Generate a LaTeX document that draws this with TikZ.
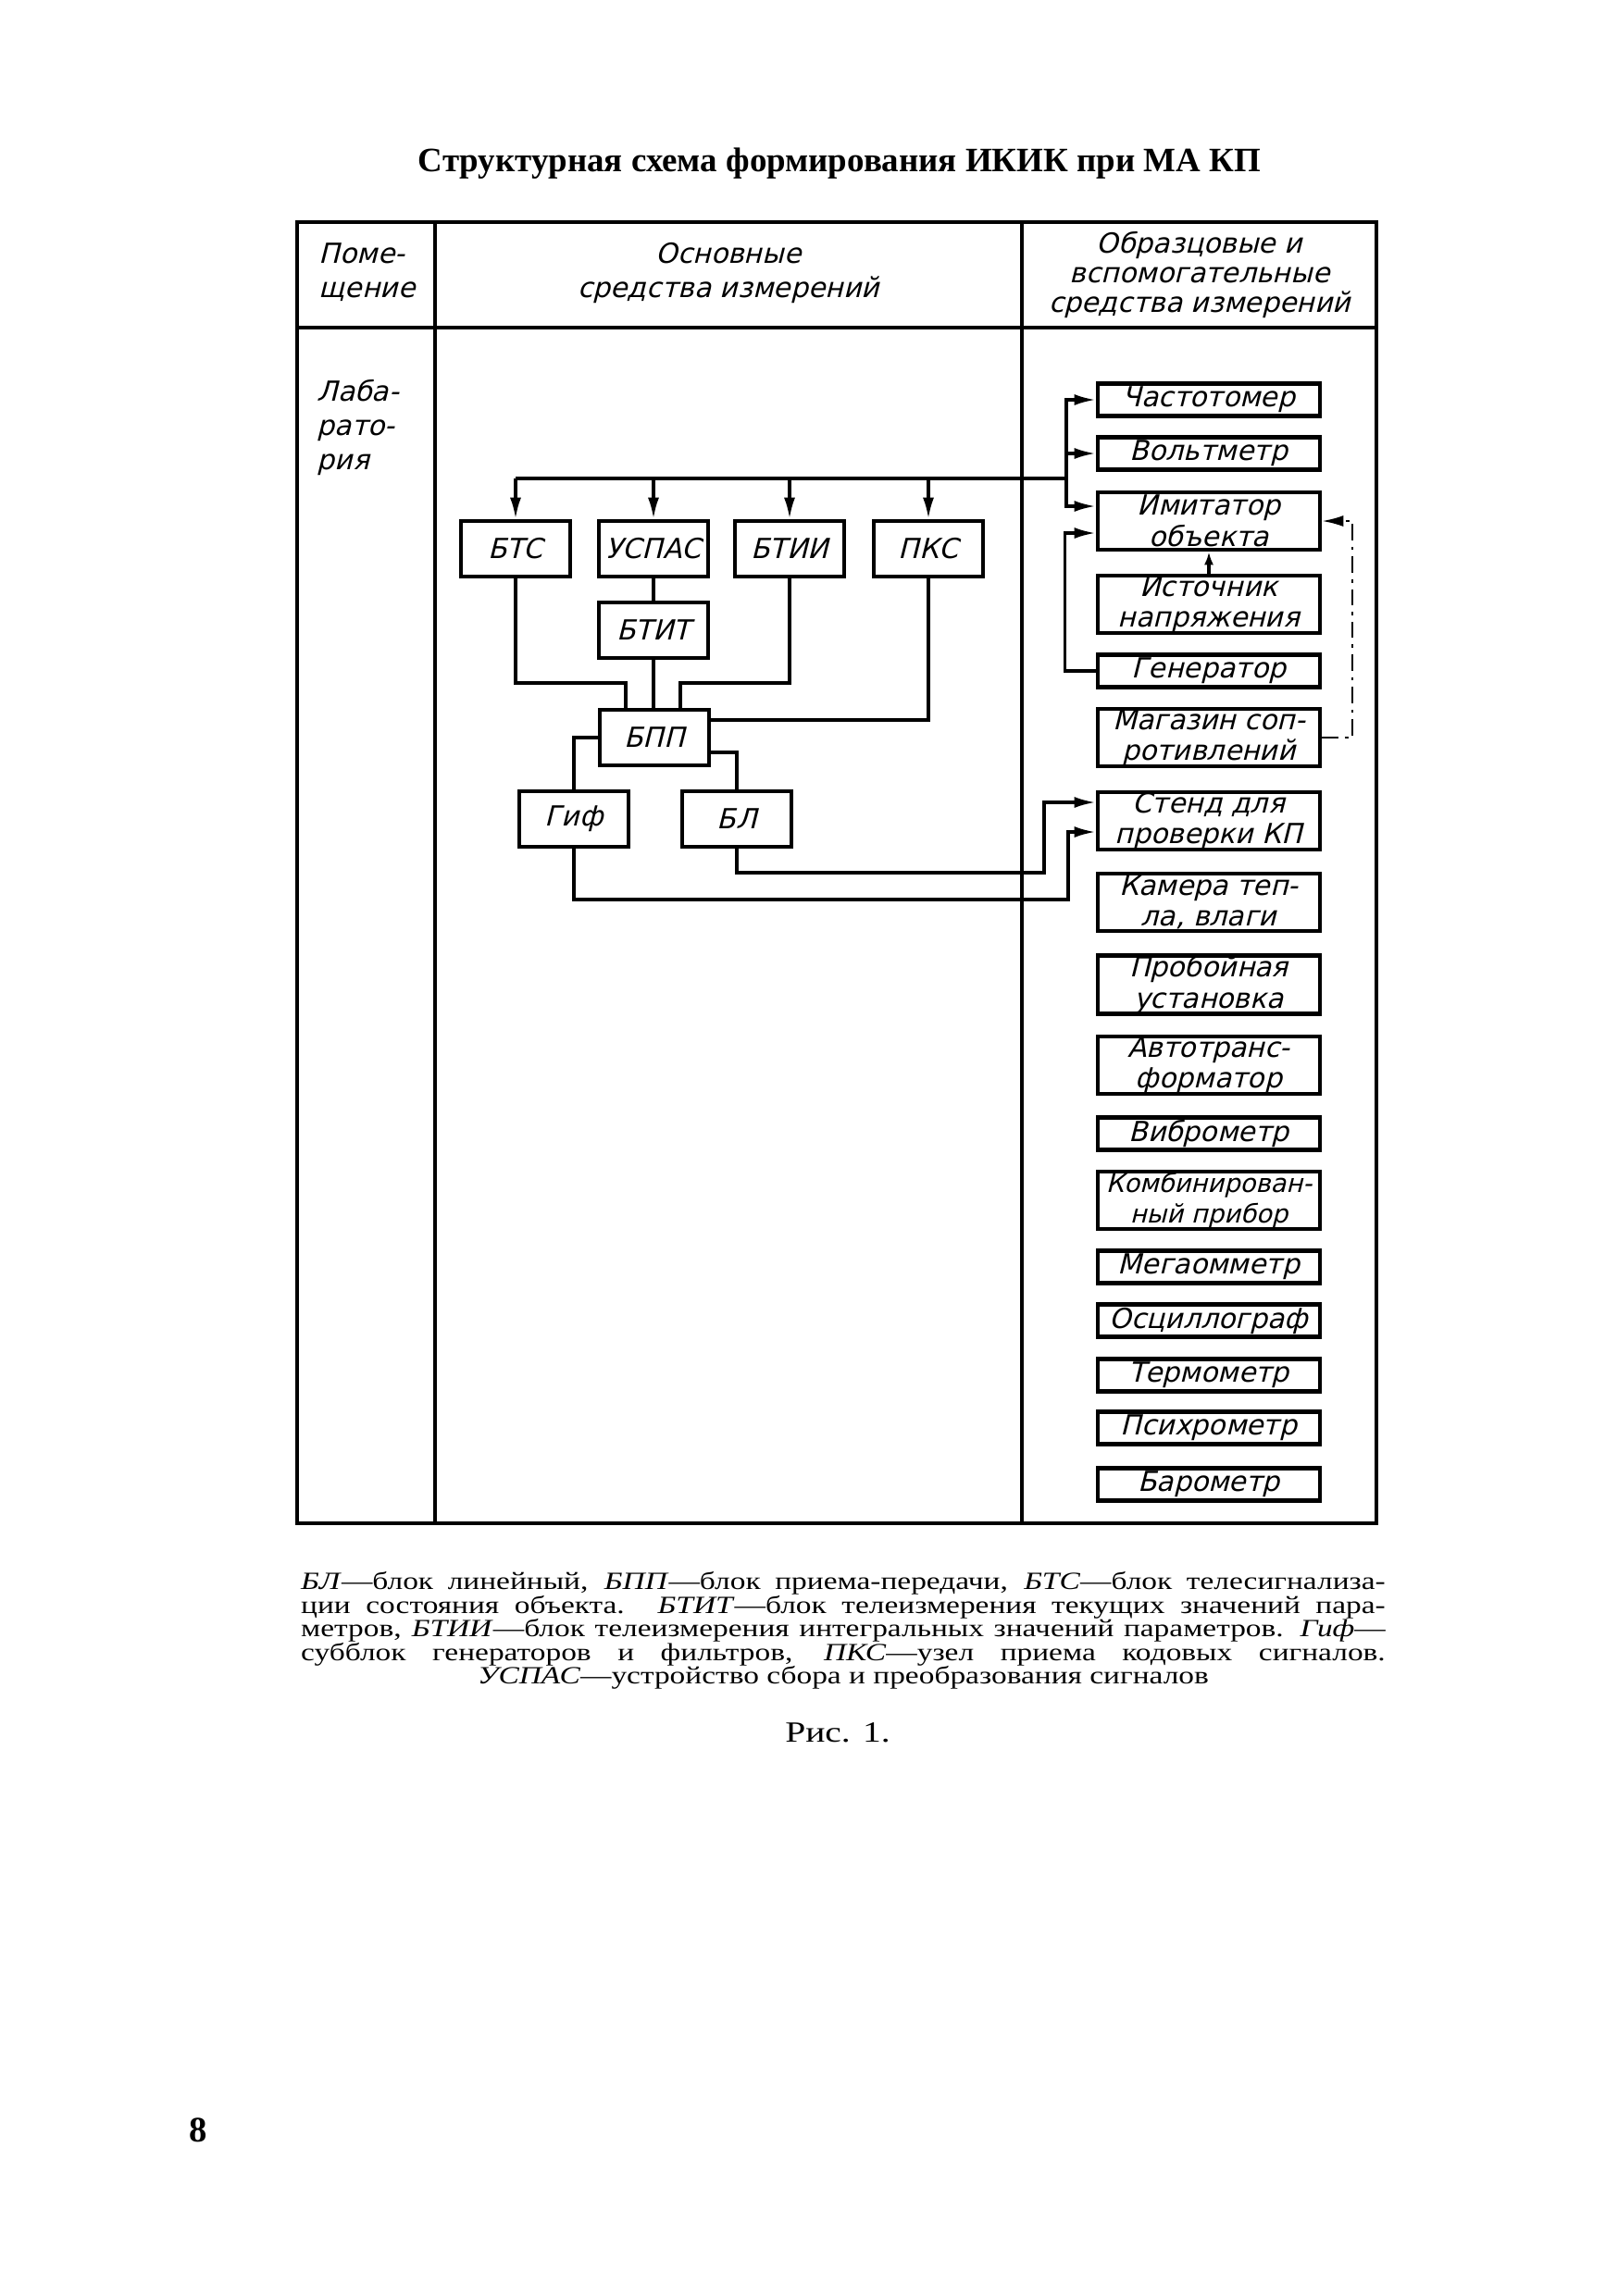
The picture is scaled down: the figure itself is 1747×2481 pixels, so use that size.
\documentclass[tikz,border=0pt]{standalone}
\usepackage{fontspec}
\setmainfont{Liberation Serif}
\newfontfamily\gostfont[FakeSlant=0.25]{DejaVu Sans}
\newfontfamily\capfont[FakeStretch=1.25]{Liberation Serif}
\usetikzlibrary{positioning, calc, arrows.meta}

\begin{document}
\begin{tikzpicture}[x=0.01cm, y=-0.01cm,
    conn/.style={line width=0.9pt},
    arr/.style={conn, -{Latex[length=2.3mm, width=1.2mm]}},
    dashconn/.style={line width=0.6pt, dash pattern=on 5pt off 2pt on 1pt off 2pt,
                     -{Latex[length=2.3mm, width=1.2mm]}},
    tbl/.style={line width=1pt},
    blk/.style={draw, line width=1.3pt, inner sep=0pt, align=center,
                font=\gostfont\fontsize{8.5}{9.5}\selectfont},
    mblk/.style={blk, minimum width=1.18cm, minimum height=0.6cm},
    rblk/.style={blk, minimum width=2.4cm, minimum height=0.35cm},
    rblkk/.style={blk, minimum width=2.4cm, minimum height=0.62cm},
    hdr/.style={font=\gostfont\fontsize{8.5}{10.5}\selectfont, inner sep=0pt}]

    \useasboundingbox (0,0) rectangle (1747,2481);

    % --- TITLE ---
    \node[font=\bfseries\fontsize{10.5}{13}\selectfont] (title) at (907,177)
        {Структурная схема формирования ИКИК при МА КП};

    % --- TABLE FRAME ---
    \draw[tbl] (321,240) rectangle (1487,1646);
    \draw[tbl] (321,354) -- (1487,354);
    \draw[tbl] (470,240) -- (470,1646);
    \draw[tbl] (1104,240) -- (1104,1646);

    % Column headings
    \node[hdr, align=left, anchor=west] (hroom) at (344,294) {Поме-\\щение};
    \node[hdr, align=center] (hmain) at (787,295) {Основные\\средства измерений};
    \node[hdr, align=center, font=\gostfont\fontsize{8.5}{9.2}\selectfont]
        (hspare) at (1296,297) {Образцовые и\\вспомогательные\\средства измерений};
    \node[hdr, align=left, anchor=west] (hlab) at (342,462) {Лаба-\\рато-\\рия};

    % --- MAIN MEASURING BLOCKS ---
    \node[mblk] (bts)   at (557,593) {БТС};
    \node[mblk] (uspas) at (706,593) {УСПАС};
    \node[mblk] (btii)  at (853,593) {БТИИ};
    \node[mblk] (pks)   at (1003,593) {ПКС};
    \node[mblk] (btit)  at (706,681) {БТИТ};
    \node[mblk] (bpp)   at (707,797) {БПП};
    \node[mblk] (gif)   at (620,885) {Гиф};
    \node[mblk] (bl)    at (796,885) {БЛ};

    % --- REFERENCE AND AUXILIARY INSTRUMENTS ---
    \node[rblk]  (chast) at (1306,432)  {Частотомер};
    \node[rblk]  (volt)  at (1306,490)  {Вольтметр};
    \node[rblkk] (imit)  at (1306,563)  {Имитатор\\объекта};
    \node[rblkk] (ist)   at (1306,653)  {Источник\\напряжения};
    \node[rblk]  (gen)   at (1306,725)  {Генератор};
    \node[rblkk] (mag)   at (1306,797)  {Магазин соп-\\ротивлений};
    \node[rblkk] (stend) at (1306,887)  {Стенд для\\проверки КП};
    \node[rblkk] (kam)   at (1306,975)  {Камера теп-\\ла, влаги};
    \node[rblkk] (prob)  at (1306,1064) {Пробойная\\установка};
    \node[rblkk] (avto)  at (1306,1151) {Автотранс-\\форматор};
    \node[rblk]  (vibr)  at (1306,1225) {Виброметр};
    \node[rblkk, font=\gostfont\fontsize{7.8}{9.5}\selectfont] (komb) at (1306,1297)
        {Комбинирован-\\ный прибор};
    \node[rblk]  (mega)  at (1306,1369) {Мегаомметр};
    \node[rblk]  (osc)   at (1306,1427) {Осциллограф};
    \node[rblk]  (term)  at (1306,1486) {Термометр};
    \node[rblk]  (psih)  at (1306,1543) {Психрометр};
    \node[rblk]  (baro)  at (1306,1604) {Барометр};

    % --- SUPPLY BUS ---
    \coordinate (busL) at (557,517);
    \coordinate (busR) at (1152,517);
    \draw[conn] (busL) -- (busR);
    \draw[arr] (bts.north |- busL) -- (bts.north);
    \draw[arr] (uspas.north |- busL) -- (uspas.north);
    \draw[arr] (btii.north |- busL) -- (btii.north);
    \draw[arr] (pks.north |- busL) -- (pks.north);

    % Bus branches to the instruments
    \draw[arr] (busR) |- (chast.west);
    \draw[arr] (busR) |- (volt.west);
    \draw[arr] (busR) |- ($(imit.west)+(0,-16)$);

    % --- LINKS TO THE RECEIVE/TRANSMIT BLOCK ---
    \coordinate (jbts) at (676,738);
    \coordinate (jbtii) at (735,738);
    \draw[conn] (bts.south) |- (jbts) -- (jbts |- bpp.north);
    \draw[conn] (uspas.south) -- (btit.north);
    \draw[conn] (btit.south) -- (btit.south |- bpp.north);
    \draw[conn] (btii.south) |- (jbtii) -- (jbtii |- bpp.north);
    \draw[conn] (pks.south) |- ($(bpp.east)+(0,-19)$);
    \draw[conn] (bpp.west) -| (gif.north);
    \draw[conn] ($(bpp.east)+(0,16)$) -| (bl.north);

    % Lines out to the test stand
    \coordinate (blturn) at (1128,943);
    \coordinate (gifturn) at (1154,972);
    \draw[arr] (bl.south) |- (blturn) |- ($(stend.west)+(0,-20)$);
    \draw[arr] (gif.south) |- (gifturn) |- ($(stend.west)+(0,12)$);

    % --- LINKS BETWEEN INSTRUMENTS ---
    \draw[arr] (gen.west) -- ++(-33,0) |- ($(imit.west)+(0,13)$);
    \draw[conn, -{Latex[length=1.4mm, width=1mm]}] (ist.north) -- (imit.south);
    \draw[dashconn] (mag.east) -- ++(33,0) |- (imit.east);

    % --- LEGEND ---
    \node[font=\capfont\fontsize{7.6}{7.25}\selectfont, align=center, inner sep=0pt] (legend) at (911,1762)
        {\makebox[11.71cm][s]{\textit{БЛ}—блок линейный, \textit{БПП}—блок приема-передачи, \textit{БТС}—блок телесигнализа-}\\
         \makebox[11.71cm][s]{ции состояния объекта. \textit{БТИТ}—блок телеизмерения текущих значений пара-}\\
         \makebox[11.71cm][s]{метров, \textit{БТИИ}—блок телеизмерения интегральных значений параметров. \textit{Гиф}—}\\
         \makebox[11.71cm][s]{субблок генераторов и фильтров, \textit{ПКС}—узел приема кодовых сигналов.}\\
         \textit{УСПАС}—устройство сбора и преобразования сигналов};
    \node[font=\capfont\fontsize{9}{11}\selectfont] (fig) at (905,1872) {Рис. 1.};
    \node[font=\bfseries\fontsize{11}{13}\selectfont] (page) at (214,2302) {8};

\end{tikzpicture}
\end{document}
